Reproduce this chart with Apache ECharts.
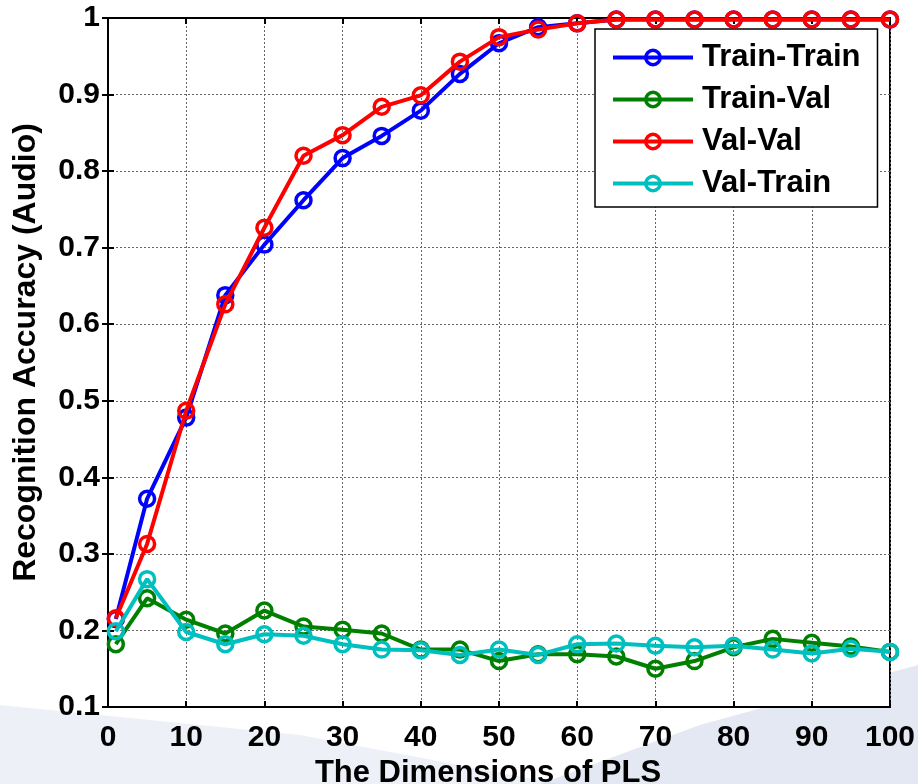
<!DOCTYPE html>
<html>
<head>
<meta charset="utf-8">
<script src="https://cdn.jsdelivr.net/npm/echarts@6/dist/echarts.min.js"></script>
<style>
  html, body { margin: 0; padding: 0; background: #fff; }
  #chart { width: 918px; height: 784px; }
</style>
</head>
<body>
<div id="chart"></div>
<script>
// PLS dimensions
var dims = [1, 5, 10, 15, 20, 25, 30, 35, 40, 45, 50, 55, 60, 65, 70, 75, 80, 85, 90, 95, 100];

var trainTrain = [0.215, 0.372, 0.478, 0.638, 0.704, 0.762, 0.817, 0.846, 0.879, 0.927, 0.967, 0.988, 0.993, 0.998, 0.998, 0.998, 0.998, 0.998, 0.998, 0.998, 0.998];
var trainVal   = [0.182, 0.242, 0.214, 0.196, 0.226, 0.205, 0.201, 0.196, 0.175, 0.175, 0.160, 0.169, 0.169, 0.166, 0.150, 0.160, 0.178, 0.189, 0.184, 0.179, 0.172];
var valVal     = [0.216, 0.313, 0.487, 0.626, 0.726, 0.820, 0.847, 0.884, 0.899, 0.943, 0.975, 0.985, 0.993, 0.998, 0.998, 0.998, 0.998, 0.998, 0.998, 0.998, 0.998];
var valTrain   = [0.199, 0.267, 0.198, 0.182, 0.195, 0.193, 0.182, 0.175, 0.174, 0.168, 0.175, 0.168, 0.182, 0.183, 0.180, 0.178, 0.180, 0.175, 0.170, 0.176, 0.172];

var seriesNames = ['Train-Train', 'Train-Val', 'Val-Val', 'Val-Train'];
var seriesColors = ['#0000ff', '#008000', '#ff0000', '#00bfbf'];

function pairs(ys) {
    var out = [];
    for (var i = 0; i < dims.length; i++) {
        out.push([dims[i], ys[i]]);
    }
    return out;
}

var chart = echarts.init(document.getElementById('chart'));
var font = 'Liberation Sans, Arial, sans-serif';
var allData = [trainTrain, trainVal, valVal, valTrain];

var series = [];
for (var s = 0; s < seriesNames.length; s++) {
    series.push({
        name: seriesNames[s],
        type: 'line',
        data: pairs(allData[s]),
        symbol: 'circle',
        symbolSize: 15,
        color: seriesColors[s],
        lineStyle: {width: 4, color: seriesColors[s]},
        // open markers, the line shows through like in matlab
        itemStyle: {color: 'rgba(255,255,255,0)', borderColor: seriesColors[s], borderWidth: 3.5},
        animation: false,
        z: 3 + s
    });
}

var tickStyle = {color: '#000', width: 2};
var gridLine = {show: true, lineStyle: {color: '#666', type: [2, 2], width: 1}};

var option = {
    backgroundColor: '#fff',
    graphic: [{
        type: 'polygon',
        silent: true,
        z: -10,
        shape: {points: [[0, 705], [300, 735], [560, 784], [0, 784]]},
        style: {fill: 'rgba(215,224,238,0.45)'}
    }, {
        type: 'polygon',
        silent: true,
        z: -10,
        shape: {points: [[540, 784], [700, 725], [918, 665], [918, 784]]},
        style: {fill: 'rgba(200,210,232,0.5)'}
    }],
    grid: {
        left: 108,
        right: 28,
        top: 18,
        bottom: 77,
        outerBoundsMode: 'none',
        show: true,
        borderColor: '#000',
        borderWidth: 2,
        backgroundColor: '#fff'
    },
    legend: {
        orient: 'vertical',
        left: 595,
        top: 29,
        itemWidth: 80,
        itemHeight: 18,
        itemGap: 11,
        padding: [13, 17, 8, 16],
        backgroundColor: '#fff',
        borderColor: '#000',
        borderWidth: 1.5,
        itemStyle: {borderWidth: 3.5},
        lineStyle: {width: 4},
        textStyle: {fontFamily: font, fontWeight: 'bold', fontSize: 31, color: '#000', padding: [0, 0, 0, 4]},
        data: seriesNames
    },
    xAxis: [{
        type: 'value',
        min: 0,
        max: 100,
        interval: 10,
        name: 'The Dimensions of PLS',
        nameLocation: 'middle',
        nameGap: 50,
        nameTextStyle: {fontFamily: font, fontWeight: 'bold', fontSize: 31, color: '#000', padding: [0, 22, 0, 0]},
        axisLine: {show: true, lineStyle: {color: '#000', width: 2}},
        axisTick: {show: true, inside: true, length: 6, lineStyle: tickStyle},
        axisLabel: {fontFamily: font, fontWeight: 'bold', fontSize: 30, color: '#000', margin: 16},
        splitLine: gridLine
    }, {
        type: 'value',
        position: 'top',
        min: 0,
        max: 100,
        interval: 10,
        axisLine: {show: true, lineStyle: {color: '#000', width: 2}},
        axisTick: {show: true, inside: true, length: 6, lineStyle: tickStyle},
        axisLabel: {show: false},
        splitLine: {show: false}
    }],
    yAxis: [{
        type: 'value',
        min: 0.1,
        max: 1,
        interval: 0.1,
        name: 'Recognition Accuracy (Audio)',
        nameLocation: 'middle',
        nameGap: 66,
        nameTextStyle: {fontFamily: font, fontWeight: 'bold', fontSize: 32, color: '#000', padding: [0, 0, 0, 20]},
        axisLine: {show: true, lineStyle: {color: '#000', width: 2}},
        axisTick: {show: true, inside: true, length: 6, lineStyle: tickStyle},
        axisLabel: {
            fontFamily: font, fontWeight: 'bold', fontSize: 30, color: '#000', margin: 8,
            formatter: function (v) {
                return Math.abs(v - 1) < 1e-6 ? '1' : v.toFixed(1);
            }
        },
        splitLine: gridLine
    }, {
        type: 'value',
        position: 'right',
        min: 0.1,
        max: 1,
        interval: 0.1,
        axisLine: {show: true, lineStyle: {color: '#000', width: 2}},
        axisTick: {show: true, inside: true, length: 6, lineStyle: tickStyle},
        axisLabel: {show: false},
        splitLine: {show: false}
    }],
    series: series
};

chart.setOption(option);
</script>
</body>
</html>
